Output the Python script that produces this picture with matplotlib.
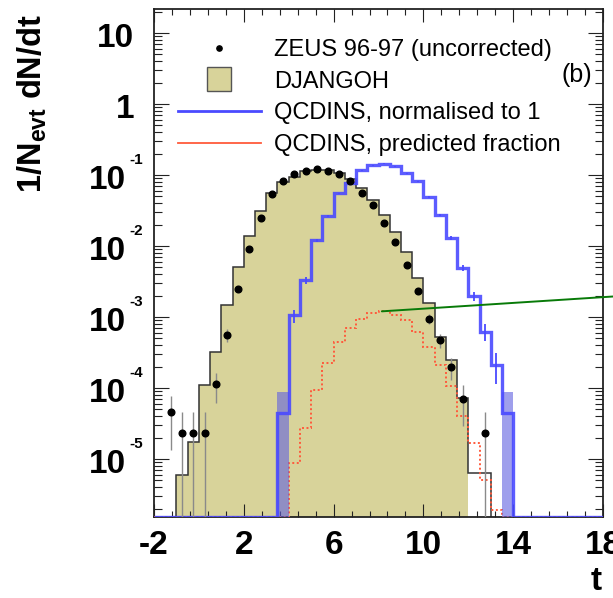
import numpy as np
import matplotlib
matplotlib.use("Agg")
import matplotlib.pyplot as plt
from matplotlib.lines import Line2D
from matplotlib.ticker import FixedLocator, LogLocator, NullFormatter

plt.rcParams['font.family'] = ['Liberation Sans', 'DejaVu Sans']
plt.rcParams['mathtext.fontset'] = 'custom'
plt.rcParams['mathtext.rm'] = 'Liberation Sans'
plt.rcParams['mathtext.bf'] = 'Liberation Sans:bold'
plt.rcParams['mathtext.it'] = 'Liberation Sans:italic'

# ---------------- data ----------------
bin_width = 0.5

# DJANGOH MC (bins start at t = -1.0)
djangoh_edge0 = -1.0
djangoh = [5.9e-6, 1.74e-5, 1.10e-4, 3.24e-4, 1.48e-3, 5.1e-3, 1.38e-2, 3.09e-2,
           5.5e-2, 7.9e-2, 9.5e-2, 0.112, 0.117, 0.117, 0.107, 8.7e-2,
           6.5e-2, 4.5e-2, 2.75e-2, 1.58e-2, 8.3e-3, 3.55e-3, 1.55e-3, 5.2e-4,
           2.45e-4, 7.1e-5, 6.3e-6, 6.3e-6]
djangoh_fill_end = 12.0

# ZEUS 96-97 data (bins start at t = -1.5), nan = empty bin
zeus_edge0 = -1.5
zeus = [4.57e-5, 2.29e-5, 2.29e-5, 2.29e-5, 1.12e-4, 5.6e-4, 2.5e-3, 9.1e-3,
        2.5e-2, 5.4e-2, 8.3e-2, 0.102, 0.115, 0.120, 0.112, 0.102,
        0.081, 0.056, 0.038, 0.0209, 0.01148, 5.4e-3, 2.34e-3, 9.5e-4,
        4.7e-4, 1.95e-4, 6.9e-5, np.nan, 2.29e-5]
zeus_single_event = 2.29e-5

# QCDINS normalised to 1 (bins start at t = 3.5)
qcdins_norm_edge0 = 3.5
qcdins_norm = [4.4e-5, 1.05e-3, 3.3e-3, 1.2e-2, 2.63e-2, 5.5e-2, 7.8e-2, 0.117,
               0.138, 0.145, 0.132, 0.105, 0.081, 0.049, 0.0275, 0.0129,
               4.9e-3, 1.95e-3, 6.2e-4, 2.1e-4, 4.4e-5]
qcdins_single_event = 4.4e-5

# QCDINS predicted fraction (bins start at t = 4.0)
qcdins_frac_edge0 = 4.0
qcdins_frac = [8.7e-6, 2.7e-5, 9.3e-5, 2.24e-4, 4.5e-4, 6.9e-4, 9.5e-4, 1.12e-3,
               1.2e-3, 1.07e-3, 9.1e-4, 6.2e-4, 3.8e-4, 2.1e-4, 1.05e-4, 4.0e-5,
               1.66e-5, 5.0e-6, 1.9e-6]
arrow_anchor_t = 8.15

xlim = (-2, 18)
ylim = (1.52e-6, 21.8)
xticks = [-2, 2, 6, 10, 14, 18]
xtick_labels = ['-2', '2', '6', '10', '14', '18']
ytick_vals = [10, 1, 1e-1, 1e-2, 1e-3, 1e-4, 1e-5]
ytick_base = ['10', '1', '10', '10', '10', '10', '10']
ytick_sup = ['', '', '-1', '-2', '-3', '-4', '-5']
legend_labels = ['ZEUS 96-97 (uncorrected)', 'DJANGOH',
                 'QCDINS, normalised to 1', 'QCDINS, predicted fraction']
panel_label = '(b)'

# ---------------- style ----------------
khaki = '#d8d39a'
blue = '#4a4aff'
red = '#ff5a3c'
green = '#087a08'

fig = plt.figure(figsize=(6.13, 5.98), dpi=100)
ax = fig.add_axes([154 / 613, 81 / 598, 449 / 613, 508 / 598])
ax.set_yscale('log')
ax.set_xlim(*xlim)
ax.set_ylim(*ylim)

# DJANGOH
dj = np.array(djangoh)
e_dj = djangoh_edge0 + bin_width * np.arange(len(dj) + 1)
fill_mask = e_dj[:-1] < djangoh_fill_end
ax.stairs(dj[fill_mask], e_dj[:fill_mask.sum() + 1], baseline=1e-8, fill=True,
          color=khaki, zorder=1)
ax.stairs(dj, e_dj, baseline=1e-8, color='#333333', lw=1.1, zorder=2)

# full-range bins for QCDINS (zeros drawn on the axis floor)
full_edges = np.arange(xlim[0], xlim[1] + bin_width / 2, bin_width)


def pad_full(vals, edge0):
    arr = np.zeros(len(full_edges) - 1)
    i0 = int(round((edge0 - xlim[0]) / bin_width))
    arr[i0:i0 + len(vals)] = vals
    return arr


floor = ylim[0]
frac_full = pad_full(qcdins_frac, qcdins_frac_edge0)
ax.stairs(np.maximum(frac_full, floor), full_edges, baseline=None, color=red,
          lw=1.4, ls=(0, (1, 1.3)), zorder=3)

qn = np.array(qcdins_norm)
e_qn = qcdins_norm_edge0 + bin_width * np.arange(len(qn) + 1)
c_qn = 0.5 * (e_qn[:-1] + e_qn[1:])
qn_err = np.sqrt(qn * qcdins_single_event)
single = qn_err >= qn * 0.999
band_hi = np.where(single, qn + qn_err, np.nan)
band_lo = np.where(single, 1e-9, np.nan)
ax.stairs(band_hi, e_qn, baseline=band_lo, fill=True,
          color='#6060e0', alpha=0.6, lw=0, zorder=3)
ax.errorbar(c_qn[~single], qn[~single], yerr=qn_err[~single], fmt='none',
            ecolor=blue, elinewidth=1.3, capsize=0, zorder=4)
norm_full = pad_full(qcdins_norm, qcdins_norm_edge0)
ax.stairs(np.maximum(norm_full, floor), full_edges, baseline=None, color=blue,
          lw=2.4, alpha=0.9, zorder=4)

# ZEUS data
z = np.array(zeus, float)
cent = zeus_edge0 + bin_width * (np.arange(len(z)) + 0.5)
m = np.isfinite(z)
err = np.sqrt(np.where(m, z, 0) * zeus_single_event)
lo = np.minimum(err, np.where(m, z, 0) - 1e-10)
ax.errorbar(cent[m], z[m], yerr=[lo[m], err[m]], fmt='o', ms=4.8, color='black',
            ecolor='#8a8a8a', elinewidth=1.0, capsize=0, zorder=6)

# green pointer line (to neighbouring panel)
ax.annotate('', xy=(arrow_anchor_t, max(qcdins_frac)), xycoords='data',
            xytext=(613, 301.5), textcoords='figure pixels',
            arrowprops=dict(arrowstyle='-', color=green, lw=1.4,
                            shrinkA=0, shrinkB=0),
            annotation_clip=False, zorder=7)

# axes styling
for sp in ax.spines.values():
    sp.set_linewidth(1.3)
    sp.set_color('#222222')
ax.set_xticks(xticks, xtick_labels, fontsize=24, fontweight='bold')
ax.xaxis.set_minor_locator(FixedLocator(np.arange(xlim[0], xlim[1] + 0.01, 0.8)))
ax.yaxis.set_major_locator(FixedLocator(ytick_vals))
ax.yaxis.set_major_formatter(NullFormatter())
ax.yaxis.set_minor_locator(LogLocator(base=10, subs=np.arange(2, 10), numticks=50))
ax.yaxis.set_minor_formatter(NullFormatter())
ax.tick_params(which='both', direction='in', top=True, right=True, width=0.8,
               color='#222222')
ax.tick_params(axis='x', which='major', length=9.5, pad=9)
ax.tick_params(axis='x', which='minor', length=4.5)
ax.tick_params(axis='y', which='major', length=11)
ax.tick_params(axis='y', which='minor', length=5.5)

ytr = ax.get_yaxis_transform()
for val, base, sup in zip(ytick_vals, ytick_base, ytick_sup):
    dx = -28 if sup else -20
    ax.annotate(base, xy=(0, val), xycoords=ytr, xytext=(dx, -14),
                textcoords='offset pixels', ha='right', va='baseline',
                fontsize=24, fontweight='bold', annotation_clip=False)
    if sup:
        ax.annotate(sup, xy=(0, val), xycoords=ytr, xytext=(-25, 11),
                    textcoords='offset pixels', ha='left', va='baseline',
                    fontsize=11, fontweight='bold', annotation_clip=False)

ylab = ax.set_ylabel(r'$\mathbf{1/N_{evt}}\ \mathbf{dN/dt}$', fontsize=23.5, loc='top')
ax.yaxis.set_label_coords(-0.27, 0.99)
ylab.set_va('center')
xlab = ax.set_xlabel('t', fontsize=24, fontweight='bold', loc='right')
ax.xaxis.set_label_coords(0.998, -0.096)
xlab.set_va('top')

# legend
handles = [
    Line2D([], [], ls='none', marker='o', ms=3.8, color='black'),
    Line2D([], [], ls='none', marker='s', ms=17, mfc=khaki, mec='#555555', mew=1.0),
    Line2D([], [], color=blue, lw=2.0),
    Line2D([], [], color=red, lw=1.3),
]
ax.legend(handles, legend_labels, loc='upper left', bbox_to_anchor=(0.0535, 0.941),
          bbox_transform=ax.transAxes, frameon=False, fontsize=17,
          handlelength=3.5, handletextpad=0.55, labelspacing=0.41,
          borderpad=0, borderaxespad=0)
ax.text(0.942, 0.870, panel_label, transform=ax.transAxes, fontsize=18,
        ha='center', va='center')

fig.savefig('out.png', dpi=100)
